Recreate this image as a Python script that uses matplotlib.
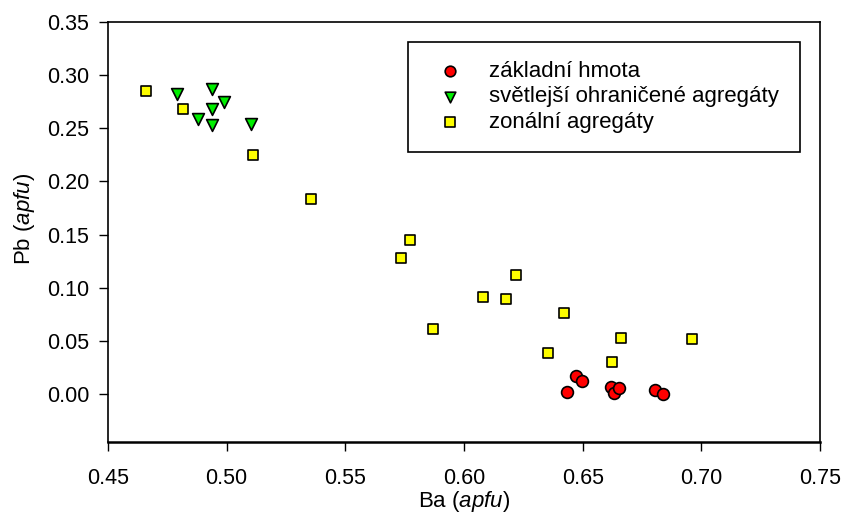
import matplotlib
matplotlib.use("Agg")
import matplotlib.pyplot as plt

plt.rcParams['font.family'] = ['Liberation Sans', 'DejaVu Sans']
plt.rcParams['mathtext.fontset'] = 'custom'
plt.rcParams['mathtext.rm'] = 'Liberation Sans'
plt.rcParams['mathtext.it'] = 'Liberation Sans:italic'

# základní hmota (red circles)
ba_zakl = [0.6435, 0.6470, 0.6497, 0.6619, 0.6634, 0.6654, 0.6805, 0.6838]
pb_zakl = [0.0022, 0.0170, 0.0120, 0.0063, 0.0013, 0.0060, 0.0038, 0.0005]

# světlejší ohraničené agregáty (green triangles)
ba_svet = [0.4792, 0.4940, 0.4989, 0.4940, 0.4879, 0.4938, 0.5101]
pb_svet = [0.2827, 0.2868, 0.2752, 0.2682, 0.2585, 0.2531, 0.2544]

# zonální agregáty (yellow squares)
ba_zon = [0.4660, 0.4816, 0.5110, 0.5357, 0.5773, 0.5733, 0.6221, 0.6080,
          0.6178, 0.6421, 0.5870, 0.6353, 0.6662, 0.6623, 0.6960]
pb_zon = [0.2850, 0.2680, 0.2250, 0.1837, 0.1450, 0.1280, 0.1116, 0.0912,
          0.0899, 0.0761, 0.0610, 0.0384, 0.0531, 0.0305, 0.0516]

labels = ['základní hmota', 'světlejší ohraničené agregáty', 'zonální agregáty']
x_ticks = [0.45, 0.50, 0.55, 0.60, 0.65, 0.70, 0.75]
y_ticks = [0.00, 0.05, 0.10, 0.15, 0.20, 0.25, 0.30, 0.35]

fig = plt.figure(figsize=(8.45, 5.15), dpi=100)
ax = fig.add_axes([108/845, 1-442/515, 712/845, 420/515])

ax.scatter(ba_zakl, pb_zakl, s=72, marker='o', c='#ff0000', edgecolors='black', linewidths=1.2, label=labels[0], zorder=3)
ax.scatter(ba_svet, pb_svet, s=72, marker='v', c='#00ee00', edgecolors='black', linewidths=1.2, label=labels[1], zorder=3)
ax.scatter(ba_zon, pb_zon, s=54, marker='s', c='#ffff00', edgecolors='black', linewidths=1.2, label=labels[2], zorder=3)

ax.set_xlim(0.45, 0.75)
ax.set_ylim(-0.045, 0.35)
ax.set_xticks(x_ticks)
ax.set_yticks(y_ticks)
ax.set_xticklabels(['%.2f' % t for t in x_ticks])
ax.set_yticklabels(['%.2f' % t for t in y_ticks])
ax.tick_params(direction='out', length=6.5, width=1.0, labelsize=15.5)
ax.tick_params(axis='x', pad=12)
ax.tick_params(axis='y', pad=7)
for sp in ax.spines.values():
    sp.set_linewidth(1.2)
ax.spines['bottom'].set_linewidth(1.8)

ax.set_xlabel(r'Ba ($\mathit{apfu}$)', fontsize=16, labelpad=0)
ax.set_ylabel(r'Pb ($\mathit{apfu}$)', fontsize=16)
ax.yaxis.set_label_coords(-0.100, 0.531)

leg = ax.legend(loc='upper left', bbox_to_anchor=(0.421, 0.952, 0.551, 0.0), mode='expand',
                fontsize=16, frameon=True, fancybox=False, framealpha=1,
                edgecolor='black', borderpad=0.85, handlelength=2.1, handletextpad=0.7,
                labelspacing=0.2, markerscale=0.9, borderaxespad=0)
leg.get_frame().set_linewidth(1.2)

fig.savefig('out.png', dpi=100)
